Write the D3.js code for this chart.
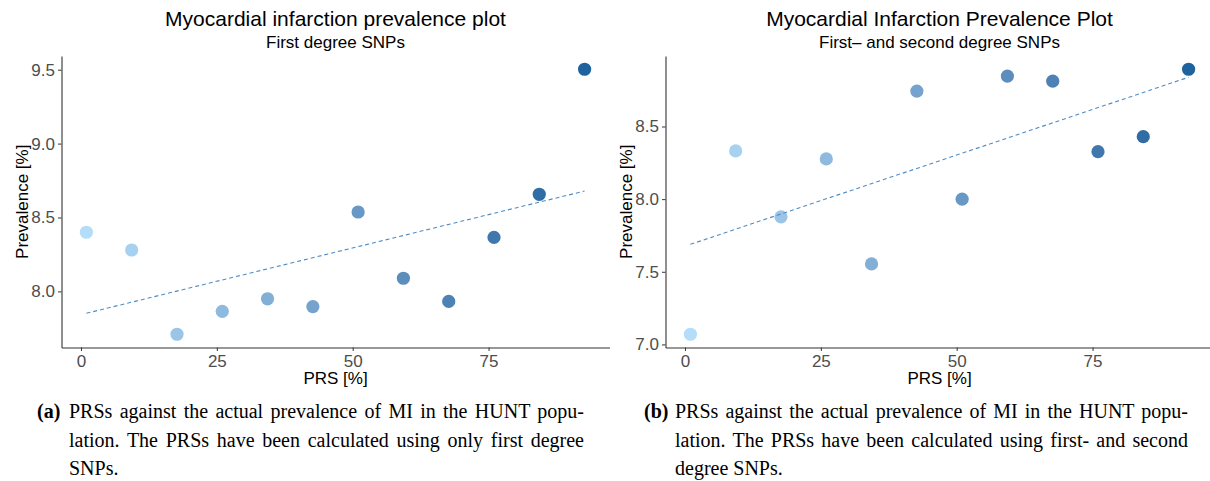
<!DOCTYPE html>
<html>
<head>
<meta charset="utf-8">
<script src="https://cdn.jsdelivr.net/npm/d3@7"></script>
<style>
  body { margin: 0; background: #fff; }
  svg { display: block; }
</style>
</head>
<body>
<svg id="fig" width="1210" height="481"></svg>
<script>
// PRS percentile bin centres (shared by both panels)
const prsPercentile = [1.0, 9.33, 17.67, 26.0, 34.33, 42.67, 51.0, 59.33, 67.67, 76.0, 84.33, 92.67];

// MI prevalence [%] per PRS bin, first degree SNPs only
const prevalenceFirst = [8.40, 8.28, 7.71, 7.865, 7.95, 7.897, 8.537, 8.089, 7.932, 8.365, 8.657, 9.503];

// MI prevalence [%] per PRS bin, first- and second degree SNPs
const prevalenceFirstSecond = [7.07, 8.332, 7.878, 8.277, 7.554, 8.744, 8.00, 8.847, 8.812, 8.327, 8.43, 8.894];

// Axis ticks
const xTicks = [0, 25, 50, 75];
const yTicksFirst = [8.0, 8.5, 9.0, 9.5];
const yTicksFirstSecond = [7.0, 7.5, 8.0, 8.5];

// Titles
const titles = ["Myocardial infarction prevalence plot", "Myocardial Infarction Prevalence Plot"];
const subtitles = ["First degree SNPs", "First\u2013 and second degree SNPs"];

// Sub-figure captions (label, then the lines of the paragraph)
const captionLabels = ["(a)", "(b)"];
const captionLinesA = [
  "PRSs against the actual prevalence of MI in the HUNT popu-",
  "lation. The PRSs have been calculated using only first degree",
  "SNPs."
];
const captionLinesB = [
  "PRSs against the actual prevalence of MI in the HUNT popu-",
  "lation. The PRSs have been calculated using first- and second",
  "degree SNPs."
];

const svg = d3.select("#fig");
svg.append("rect").attr("width", 1210).attr("height", 481).attr("fill", "#fff");

const SANS = "'Liberation Sans', Arial, Helvetica, sans-serif";
const SERIF = "'Liberation Serif', 'Times New Roman', serif";

const panelW = 548, panelTop = 56, panelBottom = 347.5;

// ggplot-style 5% expansion of a data range
function expand(ext, f = 0.05) {
  const d = (ext[1] - ext[0]) * f;
  return [ext[0] - d, ext[1] + d];
}

// ordinary least squares fit y = a + b x
function fitLine(xs, ys) {
  const mx = d3.mean(xs), my = d3.mean(ys);
  let sxy = 0, sxx = 0;
  xs.forEach((xv, i) => { sxy += (xv - mx) * (ys[i] - my); sxx += (xv - mx) ** 2; });
  const b = sxy / sxx;
  return { a: my - b * mx, b };
}

function drawPanel(cfg) {
  const g = svg.append("g");
  const x = d3.scaleLinear()
    .domain(expand(d3.extent(prsPercentile)))
    .range([cfg.left, cfg.left + panelW]);
  const y = d3.scaleLinear()
    .domain(expand(d3.extent(cfg.values)))
    .range([panelBottom, panelTop]);
  const color = d3.scaleLinear()
    .domain(d3.extent(prsPercentile))
    .range(["#b3ddf8", "#1e639d"])
    .interpolate(d3.interpolateLab);

  // points
  g.append("g").selectAll("circle")
    .data(prsPercentile)
    .join("circle")
    .attr("cx", d => x(d))
    .attr("cy", (d, i) => y(cfg.values[i]))
    .attr("r", 6.6)
    .attr("fill", d => color(d));

  // dashed linear trend
  const fit = fitLine(prsPercentile, cfg.values);
  const xr = d3.extent(prsPercentile);
  g.append("path")
    .attr("d", d3.line()(xr.map(v => [x(v), y(fit.a + fit.b * v)])))
    .attr("fill", "none")
    .attr("stroke", "#4f8cc4")
    .attr("stroke-width", 1.1)
    .attr("stroke-dasharray", "4,3");

  // axes
  const xAxis = d3.axisBottom(x).tickValues(xTicks).tickSize(3.5).tickSizeOuter(0)
    .tickPadding(3).tickFormat(d3.format("d"));
  const yAxis = d3.axisLeft(y).tickValues(cfg.yTicks).tickSize(3.5).tickSizeOuter(0)
    .tickPadding(3).tickFormat(d3.format(".1f"));

  const gx = g.append("g").attr("transform", `translate(0,${panelBottom})`).call(xAxis);
  const gy = g.append("g").attr("transform", `translate(${cfg.left},0)`).call(yAxis);
  [gx, gy].forEach(ax => {
    ax.select(".domain").attr("stroke", "#333").attr("stroke-width", 1.1);
    ax.selectAll(".tick line").attr("stroke", "#333").attr("stroke-width", 1);
    ax.selectAll(".tick text")
      .attr("fill", "#4d4d4d")
      .style("font-family", SANS)
      .style("font-size", "17px");
  });
  gx.selectAll(".tick text").attr("dy", "0.75em");

  const cx = cfg.left + panelW / 2;

  // axis titles
  g.append("text")
    .attr("x", cx).attr("y", 384)
    .attr("text-anchor", "middle")
    .style("font-family", SANS).style("font-size", "17px")
    .text("PRS [%]");
  g.append("text")
    .attr("transform", `translate(${cfg.left - 34},${(panelTop + panelBottom) / 2}) rotate(-90)`)
    .attr("text-anchor", "middle")
    .style("font-family", SANS).style("font-size", "17px")
    .text("Prevalence [%]");

  // titles
  g.append("text")
    .attr("x", cx).attr("y", 26)
    .attr("text-anchor", "middle")
    .style("font-family", SANS).style("font-size", "21px")
    .text(cfg.title);
  g.append("text")
    .attr("x", cx).attr("y", 48)
    .attr("text-anchor", "middle")
    .style("font-family", SANS).style("font-size", "17px")
    .text(cfg.subtitle);
}

drawPanel({ left: 61.5, values: prevalenceFirst, yTicks: yTicksFirst, title: titles[0], subtitle: subtitles[0] });
drawPanel({ left: 665.5, values: prevalenceFirstSecond, yTicks: yTicksFirstSecond, title: titles[1], subtitle: subtitles[1] });

// justified caption paragraph
function drawCaption(label, lines, labelX, bodyX, bodyRight) {
  const g = svg.append("g")
    .style("font-family", SERIF).style("font-size", "20px").attr("fill", "#000");
  const baselines = [418, 447, 475];
  g.append("text").attr("x", labelX).attr("y", baselines[0])
    .style("font-weight", "bold").text(label);
  lines.forEach((ln, i) => {
    const t = g.append("text").attr("x", bodyX).attr("y", baselines[i]).text(ln);
    if (i < lines.length - 1) {
      const natural = t.node().getComputedTextLength();
      const gaps = (ln.match(/ /g) || []).length;
      if (gaps > 0) t.attr("word-spacing", (bodyRight - bodyX - natural) / gaps);
    }
  });
}

drawCaption(captionLabels[0], captionLinesA, 37, 69, 584);
drawCaption(captionLabels[1], captionLinesB, 644, 675, 1188);
</script>
</body>
</html>
